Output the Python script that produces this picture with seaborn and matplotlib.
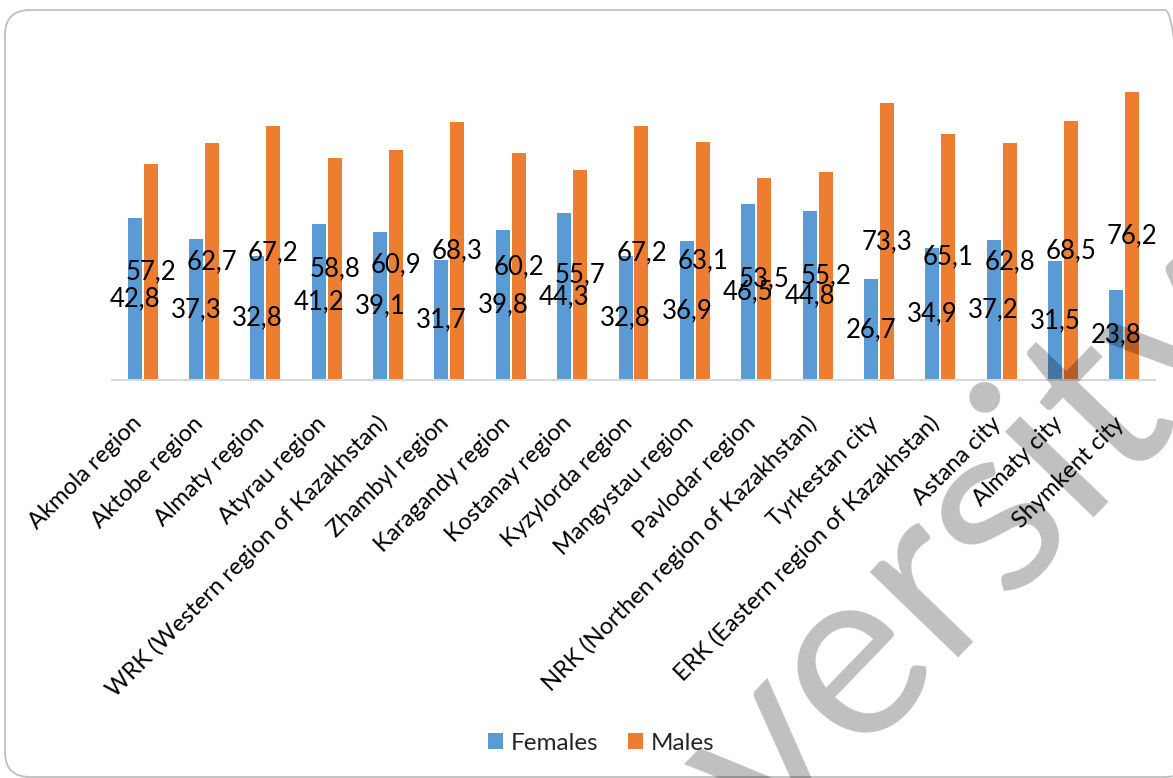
import matplotlib
matplotlib.use("Agg")
import matplotlib.pyplot as plt
import matplotlib.transforms as mtransforms
from matplotlib.patches import FancyBboxPatch
import seaborn as sns
import pandas as pd

regions = [
    "Akmola region", "Aktobe region", "Almaty region", "Atyrau region",
    "WRK (Western region of Kazakhstan)", "Zhambyl region", "Karagandy region",
    "Kostanay region", "Kyzylorda region", "Mangystau region", "Pavlodar region",
    "NRK (Northen region of Kazakhstan)", "Tyrkestan city",
    "ERK (Eastern region of Kazakhstan)", "Astana city", "Almaty city", "Shymkent city",
]
females = [42.8, 37.3, 32.8, 41.2, 39.1, 31.7, 39.8, 44.3, 32.8, 36.9, 46.5, 44.8, 26.7, 34.9, 37.2, 31.5, 23.8]
males = [57.2, 62.7, 67.2, 58.8, 60.9, 68.3, 60.2, 55.7, 67.2, 63.1, 53.5, 55.2, 73.3, 65.1, 62.8, 68.5, 76.2]
series_names = ["Females", "Males"]
colors = ["#5B9BD5", "#ED7D31"]

df = pd.DataFrame({
    "region": regions * 2,
    "value": females + males,
    "sex": [series_names[0]] * len(regions) + [series_names[1]] * len(regions),
})

sns.set_theme(style="white")
plt.rcParams["font.family"] = ["Lato", "DejaVu Sans"]

W, H = 1173, 778
fig = plt.figure(figsize=(W / 100, H / 100), dpi=100)
ax = fig.add_axes([112 / W, (H - 380) / H, 1043 / W, 302 / H])

sns.barplot(data=df, x="region", y="value", hue="sex", hue_order=series_names,
            palette=colors, width=0.52, gap=0.125, ax=ax, legend=True,
            saturation=1, edgecolor="none")

ax.set_ylim(0, 80)
ax.set_xlim(-0.5, len(regions) - 0.5)
ax.set_xlabel("")
ax.set_ylabel("")
ax.set_yticks([])
for s in ["top", "right", "left"]:
    ax.spines[s].set_visible(False)
ax.spines["bottom"].set_color("#D9D9D9")
ax.spines["bottom"].set_linewidth(1.5)
ax.tick_params(axis="x", length=0, pad=0)
ax.set_xticks(range(len(regions)))
ax.set_xticklabels(regions, rotation=45, ha="right", rotation_mode="anchor",
                   fontsize=17, color="#000000")
offset = mtransforms.ScaledTranslation(-4 / 100, -40 / 100, fig.dpi_scale_trans)
for lbl in ax.get_xticklabels():
    lbl.set_va("center")
    lbl.set_transform(lbl.get_transform() + offset)

for cont in ax.containers:
    vals = [b.get_height() for b in cont]
    ax.bar_label(cont, labels=[f"{v:.1f}".replace(".", ",") for v in vals],
                 label_type="center", fontsize=18.5, color="#000000")

handles, labels = ax.get_legend_handles_labels()
ax.legend(handles, labels, loc="center", bbox_to_anchor=(601 / W, 1 - 743 / H),
          bbox_transform=fig.transFigure, ncol=2, frameon=False, fontsize=17.5,
          handlelength=0.65, handleheight=0.65, handletextpad=0.3, columnspacing=1.2)

# outer rounded frame
frame = FancyBboxPatch((5 / 100, (H - 777) / 100), (1190 - 5) / 100, (777 - 10) / 100,
                       boxstyle="round,pad=0,rounding_size=0.25",
                       transform=fig.dpi_scale_trans, facecolor="none",
                       edgecolor="#BFBFBF", linewidth=1.3, zorder=0)
fig.patches.append(frame)

# watermark
fig.text(770 / W, 1 - 850 / H, "versity", rotation=46, rotation_mode="anchor",
         ha="left", va="baseline", fontsize=175, fontweight="normal",
         color=(0, 0, 0, 0.25), family=["Lato", "DejaVu Sans"], zorder=10)

fig.savefig("out.png", dpi=100)
